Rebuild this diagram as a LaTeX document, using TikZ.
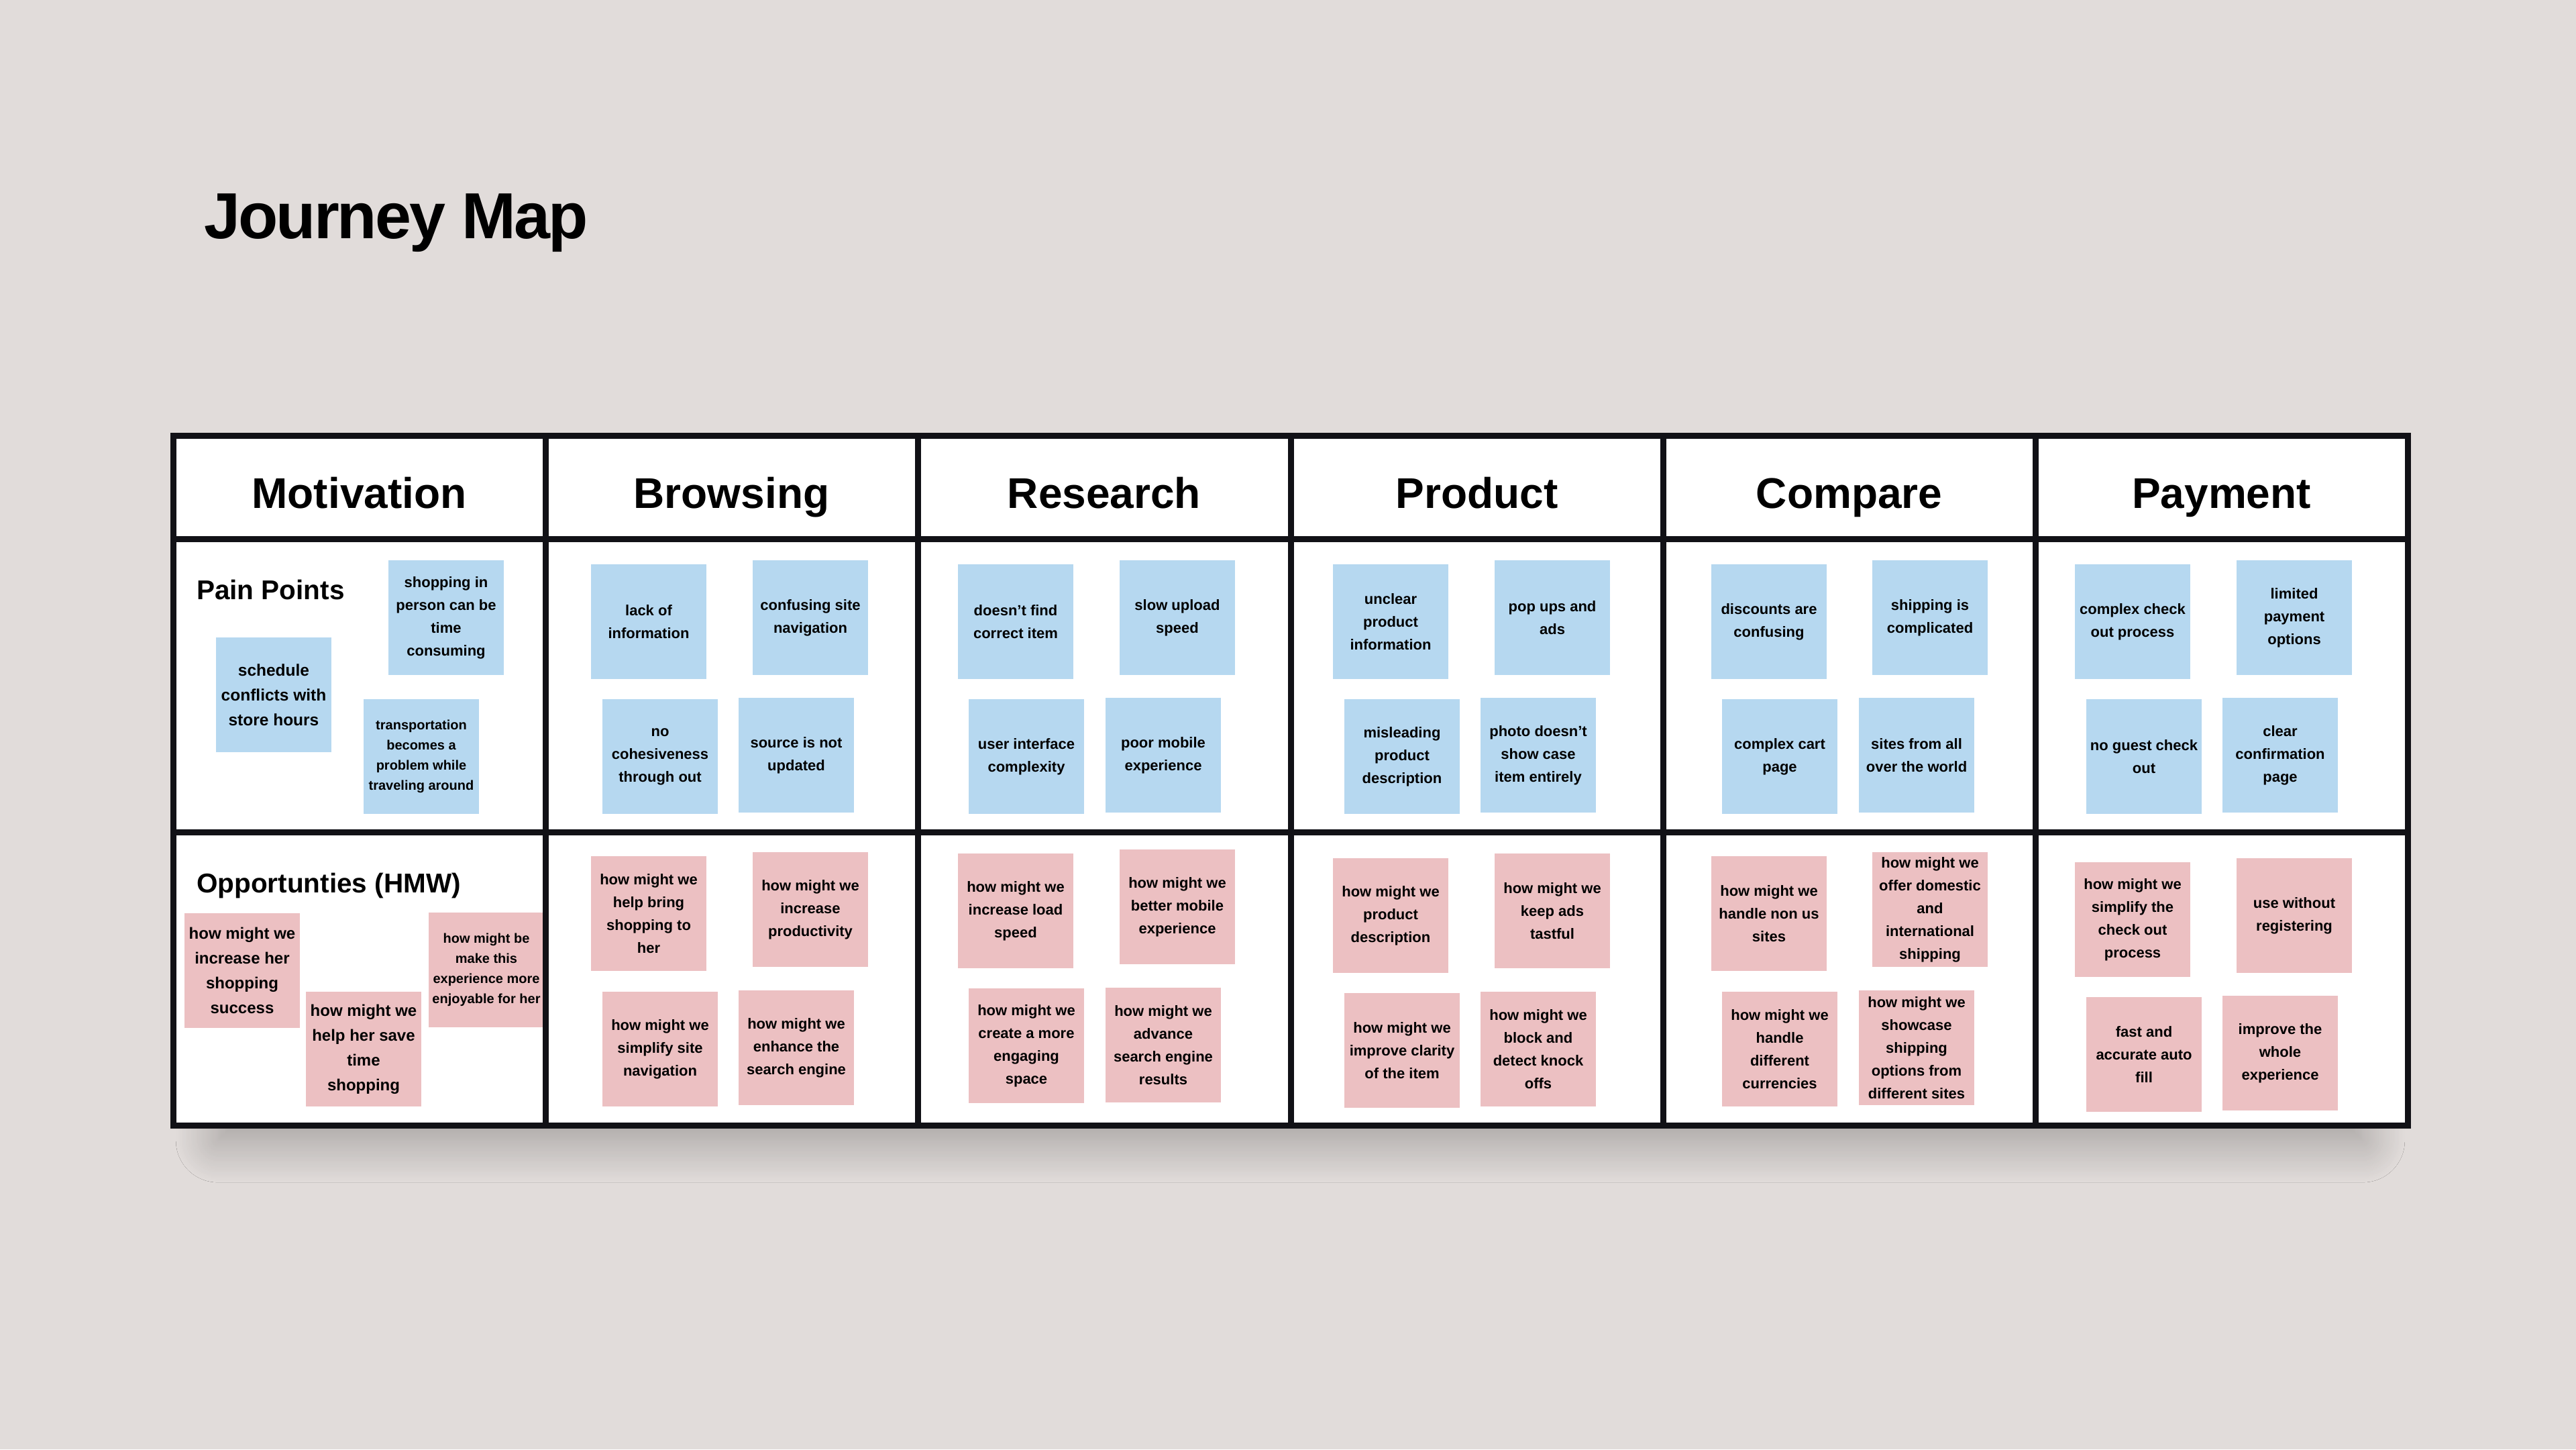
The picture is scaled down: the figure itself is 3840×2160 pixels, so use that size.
\documentclass[tikz,border=0pt]{standalone}
\usepackage{fontspec}
\setmainfont{Liberation Sans}
\usetikzlibrary{shadows.blur}
\definecolor{bgc}{HTML}{E1DCDA}
\definecolor{notepain}{HTML}{B6D8F0}
\definecolor{notehmw}{HTML}{ECC0C2}
\definecolor{ink}{HTML}{111116}
\begin{document}
\begin{tikzpicture}[x=1pt,y=-1pt,
  note/.style={minimum width=172pt,minimum height=171pt,inner sep=0pt,align=center,text=black,font=\bfseries\fontsize{22}{34}\selectfont},
  painnote/.style={note,fill=notepain},
  hmwnote/.style={note,fill=notehmw},
  big/.style={font=\bfseries\fontsize{24.5}{37}\selectfont},
  small/.style={font=\bfseries\fontsize{20}{30}\selectfont},
  headtext/.style={anchor=base,inner sep=0pt,font=\bfseries\fontsize{64}{70}\selectfont},
  rowtext/.style={anchor=base west,inner sep=0pt,font=\bfseries\fontsize{40.5}{48}\selectfont},
  gridline/.style={line width=9pt,draw=ink}]
\useasboundingbox (0,0) rectangle (3840,2160);
\fill[bgc] (0,0) rectangle (3840,2160);

% title
\node[anchor=base west,inner sep=0pt,font=\bfseries\fontsize{97}{110}\selectfont\addfontfeatures{LetterSpace=-3}] (title) at (304,355) {Journey Map};

% table body with shadow
\path[fill=white,blur shadow={shadow xshift=0pt,shadow yshift=-45pt,shadow scale=0.96,shadow blur radius=65pt,shadow opacity=30,shadow blur steps=30}] (258,649) rectangle (3589,1677);

% headers
\node[headtext] (h1) at (535.5,757) {Motivation};
\node[headtext] (h2) at (1090.5,757) {Browsing};
\node[headtext] (h3) at (1646,757) {Research};
\node[headtext] (h4) at (2201.5,757) {Product};
\node[headtext] (h5) at (2756.5,757) {Compare};
\node[headtext] (h6) at (3311.5,757) {Payment};

\node[rowtext] (pp) at (293,893) {Pain Points};
\node[rowtext] (op) at (293,1330) {Opportunties (HMW)};

% Motivation
\node[painnote] (m1) at (665,920.5) {shopping in\\person can be\\time\\consuming};
\node[painnote,big] (m2) at (408,1035.5) {schedule\\conflicts with\\store hours};
\node[painnote,small] (m3) at (628,1127.5) {transportation\\becomes a\\problem while\\traveling around};
\node[hmwnote,font=\bfseries\fontsize{24}{37}\selectfont] (m4) at (361,1446.5) {how might we\\increase her\\shopping\\success};
\node[hmwnote,font=\bfseries\fontsize{24}{37}\selectfont] (m5) at (542,1563.5) {how might we\\help her save\\time\\shopping};
\node[hmwnote,small] (m6) at (725,1445.5) {how might be\\make this\\experience more\\enjoyable for her};

% Browsing
\node[painnote] (b1) at (967,926.5) {lack of\\information};
\node[painnote] (b2) at (1208,920.5) {confusing site\\navigation};
\node[painnote] (b3) at (984,1127.5) {no\\cohesiveness\\through out};
\node[painnote] (b4) at (1187,1125.5) {source is not\\updated};
\node[hmwnote] (b5) at (967,1361.5) {how might we\\help bring\\shopping to\\her};
\node[hmwnote] (b6) at (1208,1355.5) {how might we\\increase\\productivity};
\node[hmwnote] (b7) at (984,1563.5) {how might we\\simplify site\\navigation};
\node[hmwnote] (b8) at (1187,1561.5) {how might we\\enhance the\\search engine};

% Research
\node[painnote] (r1) at (1514,926.5) {doesn’t find\\correct item};
\node[painnote] (r2) at (1755,920.5) {slow upload\\speed};
\node[painnote] (r3) at (1530,1127.5) {user interface\\complexity};
\node[painnote] (r4) at (1734,1125.5) {poor mobile\\experience};
\node[hmwnote] (r5) at (1514,1357.5) {how might we\\increase load\\speed};
\node[hmwnote] (r6) at (1755,1351.5) {how might we\\better mobile\\experience};
\node[hmwnote] (r7) at (1530,1558.5) {how might we\\create a more\\engaging\\space};
\node[hmwnote] (r8) at (1734,1557.5) {how might we\\advance\\search engine\\results};

% Product
\node[painnote] (p1) at (2073,926.5) {unclear\\product\\information};
\node[painnote] (p2) at (2314,920.5) {pop ups and\\ads};
\node[painnote] (p3) at (2090,1127.5) {misleading\\product\\description};
\node[painnote] (p4) at (2293,1125.5) {photo doesn’t\\show case\\item entirely};
\node[hmwnote] (p5) at (2073,1364.5) {how might we\\product\\description};
\node[hmwnote] (p6) at (2314,1357.5) {how might we\\keep ads\\tastful};
\node[hmwnote] (p7) at (2090,1565.5) {how might we\\improve clarity\\of the item};
\node[hmwnote] (p8) at (2293,1563.5) {how might we\\block and\\detect knock\\offs};

% Compare
\node[painnote] (c1) at (2637,926.5) {discounts are\\confusing};
\node[painnote] (c2) at (2877,920.5) {shipping is\\complicated};
\node[painnote] (c3) at (2653,1127.5) {complex cart\\page};
\node[painnote] (c4) at (2857,1125.5) {sites from all\\over the world};
\node[hmwnote] (c5) at (2637,1361.5) {how might we\\handle non us\\sites};
\node[hmwnote] (c6) at (2877,1355.5) {how might we\\offer domestic\\and\\international\\shipping};
\node[hmwnote] (c7) at (2653,1563.5) {how might we\\handle\\different\\currencies};
\node[hmwnote] (c8) at (2857,1561.5) {how might we\\showcase\\shipping\\options from\\different sites};

% Payment
\node[painnote] (y1) at (3179,926.5) {complex check\\out process};
\node[painnote] (y2) at (3420,920.5) {limited\\payment\\options};
\node[painnote] (y3) at (3196,1127.5) {no guest check\\out};
\node[painnote] (y4) at (3399,1125.5) {clear\\confirmation\\page};
\node[hmwnote] (y5) at (3179,1370.5) {how might we\\simplify the\\check out\\process};
\node[hmwnote] (y6) at (3420,1364.5) {use without\\registering};
\node[hmwnote] (y7) at (3196,1571.5) {fast and\\accurate auto\\fill};
\node[hmwnote] (y8) at (3399,1569.5) {improve the\\whole\\experience};

% grid lines
\draw[gridline] (258,803) -- (3589,803);
\draw[gridline] (258,1240) -- (3589,1240);
\foreach \gx in {813,1368,1924,2479,3034}
  \draw[gridline] (\gx,649) -- (\gx,1677);
\draw[gridline] (258,649) rectangle (3589,1677);
\end{tikzpicture}
\end{document}
